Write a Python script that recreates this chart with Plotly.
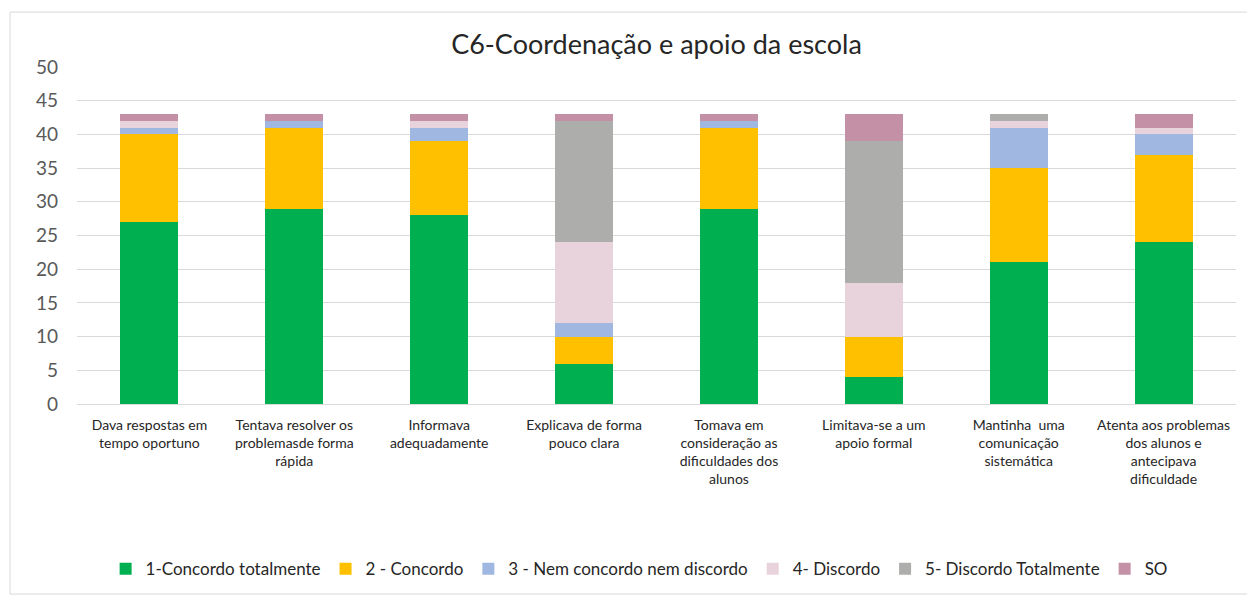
import plotly.graph_objects as go

categories = [
    "Dava respostas em<br>tempo oportuno",
    "Tentava resolver os<br>problemasde forma<br>rápida",
    "Informava<br>adequadamente",
    "Explicava de forma<br>pouco clara",
    "Tomava em<br>consideração as<br>dificuldades dos<br>alunos",
    "Limitava-se a um<br>apoio formal",
    "Mantinha  uma<br>comunicação<br>sistemática",
    "Atenta aos problemas<br>dos alunos e<br>antecipava<br>dificuldade",
]

series_names = [
    "1-Concordo totalmente",
    "2 - Concordo",
    "3 - Nem concordo nem discordo",
    "4- Discordo",
    "5- Discordo Totalmente",
    "SO",
]

concordo_totalmente = [27, 29, 28, 6, 29, 4, 21, 24]
concordo = [13, 12, 11, 4, 12, 6, 14, 13]
nem_nem = [1, 1, 2, 2, 1, 0, 6, 3]
discordo = [1, 0, 1, 12, 0, 8, 1, 1]
discordo_totalmente = [0, 0, 0, 18, 0, 21, 1, 0]
so = [1, 1, 1, 1, 1, 4, 0, 2]

colors = ["#00B050", "#FFC000", "#A0B8E1", "#E8D3DC", "#ADADAB", "#C490A6"]
values = [concordo_totalmente, concordo, nem_nem, discordo, discordo_totalmente, so]

font_family = "Lato, 'Open Sans', sans-serif"

fig = go.Figure()
for name, vals, col in zip(series_names, values, colors):
    fig.add_trace(go.Bar(
        name=name, x=categories, y=vals, marker_color=col,
        marker_line_width=0,
    ))

fig.update_layout(
    barmode="stack",
    bargap=0.6,
    width=1255, height=595,
    margin=dict(l=69, r=27, t=59, b=199),
    paper_bgcolor="white",
    plot_bgcolor="white",
    font=dict(family=font_family, color="#404040"),
    title=dict(text="C6-Coordenação e apoio da escola", x=0.5, xanchor="center",
               xref="paper", yref="container",
               y=0.938, yanchor="middle",
               font=dict(size=27, color="#262626", family=font_family)),
    legend=dict(orientation="h", x=0.485, xanchor="center", y=-0.49, yanchor="middle",
                font=dict(size=17, color="#262626"), traceorder="normal",
                itemwidth=30),
    showlegend=True,
)
fig.update_yaxes(range=[0, 50], dtick=5, showgrid=True, gridcolor="#D9D9D9", gridwidth=1,
                 tickfont=dict(size=19, color="#595959"), zeroline=False,
                 showline=False, ticks="", ticklen=0, ticklabelstandoff=18)
fig.update_xaxes(tickfont=dict(size=14, color="#262626"), showline=True, linecolor="#D9D9D9",
                 linewidth=1, tickangle=0, ticks="", ticklabelstandoff=8)

fig.add_shape(type="rect", xref="paper", yref="paper",
              x0=-0.0578, x1=1.017, y0=-0.564, y1=1.163,
              line=dict(color="#D9D9D9", width=1), fillcolor="rgba(0,0,0,0)", layer="below")

fig.write_html("out.html")
